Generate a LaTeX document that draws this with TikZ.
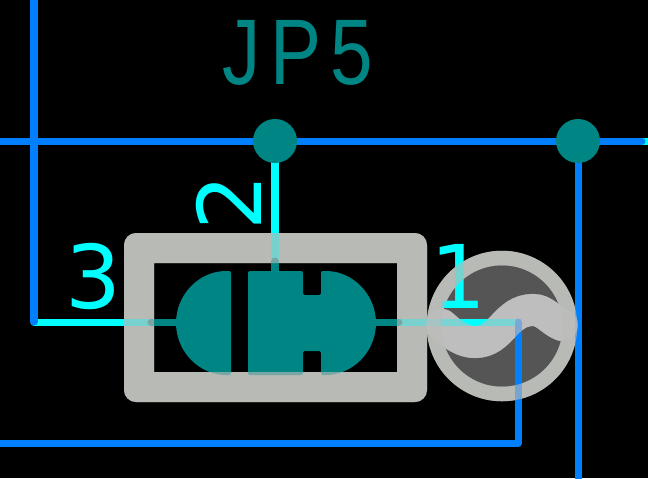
\documentclass[tikz,border=0pt]{standalone}
\usepackage{fontspec}
\setmainfont{DejaVu Sans}
\newfontfamily\namefont[FakeStretch=0.82,LetterSpace=10]{Liberation Sans}
\definecolor{netblue}{RGB}{0,128,255}
\definecolor{pincyan}{RGB}{0,255,255}
\definecolor{padteal}{RGB}{0,133,133}
\definecolor{silkgray}{RGB}{184,186,182}
\definecolor{wavegray}{RGB}{190,190,190}
\definecolor{holegray}{RGB}{85,85,85}
\tikzset{
  net/.style={netblue,line width=0.07cm,line cap=round,line join=round},
  pin/.style={pincyan,line width=0.07cm,line cap=round},
  lead/.style={padteal,line width=0.07cm,line cap=round},
  pad/.style={fill=padteal,draw=none},
  via/.style={pad,circle,minimum size=0.44cm,inner sep=0pt},
  pinlabel/.style={text=pincyan,font=\fontsize{25}{25}\selectfont,inner sep=0pt},
}
\newcommand{\silkshapes}{
	\fill [silkgray,even odd rule,rounded corners=0.12cm] (124,233) rectangle (427,402)
		[sharp corners] (154,263) rectangle (397,372);
	\draw [silkgray,line width=0.145cm] (502,326) circle (68);
	\draw [wavegray,line width=0.32cm,line cap=round] (442,325) .. controls (458,340) and (468,342) .. (475,342)
		.. controls (502,342) and (505,310) .. (533,310)
		.. controls (545,310) and (550,320) .. (562,325);
}
\begin{document}
\begin{tikzpicture}[x=0.01cm,y=-0.01cm]
	\useasboundingbox (0,0) rectangle (648,478);
	\fill [black] (0,0) rectangle (648,478);
	\fill [holegray] (502,326) circle (61);
	\silkshapes
	% Pins
	\draw [pin] (34,322) -- (151,322);
	\draw [pin] (275,141) -- (275,261);
	\draw [pin] (399,322) -- (518,322);
	\draw [pin] (642,141) -- (653,141);
	% Nets
	\draw [net] (34,-5) -- (34,322);
	\draw [net] (-5,141) -- (642,141);
	\draw [net] (578,141) -- (578,483);
	\draw [net] (-5,443) -- (518,443) -- (518,322);
	% Pads
	\draw [lead] (151,322) -- (176,322);
	\draw [lead] (275,261) -- (275,271);
	\draw [lead] (376,322) -- (399,322);
	\fill [pad,rounded corners=0.02cm] (228,271) arc (270:90:52) -- (231,375) -- (231,271) -- cycle;
	\fill [pad,rounded corners=0.02cm] (248,271) -- (303,271) -- (303,295) -- (321,295) -- (321,271) -- (324,271)
		arc (270:450:52) -- (321,375) -- (321,351) -- (303,351) -- (303,375) -- (248,375) -- cycle;
	% Labels
	\node [pinlabel] (three) at (93,276) {3};
	\node [pinlabel,rotate=90] (two) at (229,203) {2};
	\node [pinlabel] (one) at (458,276) {1};
	\begin{scope}[opacity=0.65]
		\silkshapes
	\end{scope}
	% Vias
	\node [via] (viaA) at (275,141) {};
	\node [via] (viaB) at (578,141) {};
	\node [text=padteal,font=\namefont\fontsize{26.5}{26.5}\selectfont,inner sep=0pt] (name) at (298,53) {JP5};
\end{tikzpicture}
\end{document}
